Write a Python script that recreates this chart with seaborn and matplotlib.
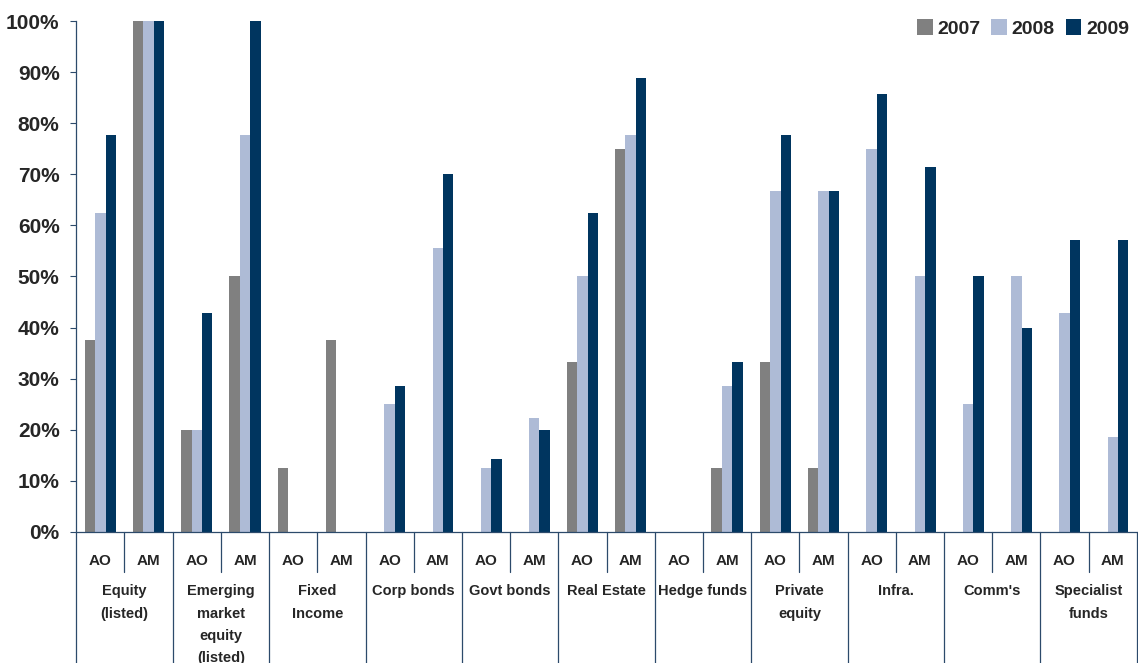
import numpy as np
import pandas as pd
import matplotlib
matplotlib.use("Agg")
import matplotlib.pyplot as plt
import matplotlib.transforms as mtransforms
import seaborn as sns

# asset classes and the two respondent types under each
categories = ["Equity\n(listed)", "Emerging\nmarket\nequity\n(listed)", "Fixed\nIncome",
              "Corp bonds", "Govt bonds", "Real Estate", "Hedge funds",
              "Private\nequity", "Infra.", "Comm's", "Specialist\nfunds"]
subgroups = ["AO", "AM"]
years = ["2007", "2008", "2009"]

# share of respondents (%), order: AO, AM for each category
v2007 = [37.5, 100, 20, 50, 12.5, 37.5, 0, 0, 0, 0, 33.3, 75, 0, 12.5,
         33.3, 12.5, 0, 0, 0, 0, 0, 0]
v2008 = [62.5, 100, 20, 77.8, 0, 0, 25, 55.6, 12.5, 22.2, 50, 77.8, 0, 28.6,
         66.7, 66.7, 75, 50, 25, 50, 42.9, 18.6]
v2009 = [77.8, 100, 42.9, 100, 0, 0, 28.6, 70, 14.3, 20, 62.5, 88.9, 0, 33.3,
         77.8, 66.7, 85.7, 71.4, 50, 40, 57.1, 57.1]

colors = ["#808080", "#AEBBD6", "#00355F"]
axis_col = "#2C4A6B"

keys = [f"{c}|{s}" for c in categories for s in subgroups]
rows = []
for yr, vals in zip(years, [v2007, v2008, v2009]):
    for k, v in zip(keys, vals):
        rows.append({"key": k, "year": yr, "value": v})
df = pd.DataFrame(rows)

sns.set_style("white")
fig, ax = plt.subplots(figsize=(11.38, 6.63), dpi=100)
fig.subplots_adjust(left=0.067, right=0.999, top=0.968, bottom=0.198)

sns.barplot(data=df, x="key", y="value", hue="year", order=keys, hue_order=years,
            palette=colors, width=0.65, gap=0, saturation=1, errorbar=None,
            edgecolor="none", linewidth=0, ax=ax)

ax.set_ylim(0, 100)
ax.set_xlim(-0.5, len(keys) - 0.5)
ax.set_yticks(np.arange(0, 101, 10))
ax.set_yticklabels([f"{t}%" for t in range(0, 101, 10)], fontsize=15,
                   fontweight="bold", family=["Liberation Sans", "DejaVu Sans"])
ax.tick_params(axis="y", which="both", left=True, length=4, width=0.8,
               color=axis_col, pad=8)
ax.set_xticks([])
ax.set_xlabel("")
ax.set_ylabel("")
for side in ["top", "right"]:
    ax.spines[side].set_visible(False)
for side in ["left", "bottom"]:
    ax.spines[side].set_color(axis_col)
    ax.spines[side].set_linewidth(0.9)

# category table under the axis
trans = mtransforms.blended_transform_factory(ax.transData, ax.transAxes)
narrow = ["Liberation Sans Narrow", "Liberation Sans", "DejaVu Sans"]
for i, k in enumerate(keys):
    cat, sub = k.split("|")
    ax.text(i, -0.058, sub, transform=trans, ha="center", va="center",
            fontsize=11, fontweight="bold", family=narrow)
for j, cat in enumerate(categories):
    ax.text(2 * j + 0.5, -0.103, cat, transform=trans, ha="center", va="top",
            fontsize=10.5, fontweight="bold", family=narrow, linespacing=1.75)
    ax.plot([2 * j + 0.5, 2 * j + 0.5], [0, -0.078], transform=trans,
            color=axis_col, lw=0.9, clip_on=False)
for b in range(len(categories) + 1):
    xb = 2 * b - 0.5
    ax.plot([xb, xb], [0, -0.26], transform=trans, color=axis_col, lw=0.9,
            clip_on=False)

leg = ax.legend(loc="upper right", bbox_to_anchor=(1.0, 1.02), ncol=3,
                frameon=False, handlelength=0.8, handleheight=0.9,
                handletextpad=0.25, columnspacing=0.55, borderaxespad=0,
                prop={"size": 14, "weight": "bold", "family": "Liberation Sans"})

fig.savefig("out.png", dpi=100)
